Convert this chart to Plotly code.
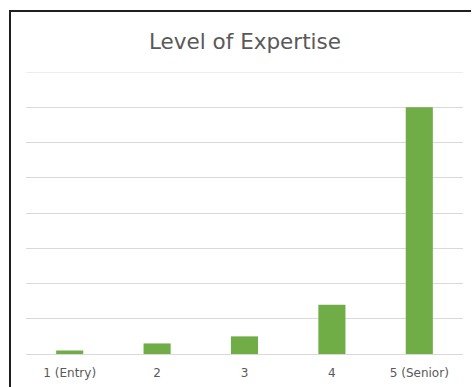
import plotly.graph_objects as go

# Level of expertise counts
levels = ["1 (Entry)", "2", "3", "4", "5 (Senior)"]
counts = [1, 3, 5, 14, 70]

bar_color = "#70AD47"
grid_color = "#D9D9D9"
text_color = "#595959"
font_family = "'DejaVu Sans', Lato, sans-serif"

W, H = 473, 387
m_l, m_r, m_t, m_b = 26, 10, 72, 33

fig = go.Figure(
    go.Bar(
        x=levels,
        y=counts,
        marker=dict(color=bar_color, line=dict(width=0)),
        hoverinfo="x+y",
    )
)

# chart frame: left and top edges, positioned in pixels via paper coordinates
pw = W - m_l - m_r
ph = H - m_t - m_b
def px_x(p):
    return (p - m_l) / pw
def px_y(p):
    return 1 - (p - m_t) / ph

frame = dict(color="#1f1f1f", width=2)
fig.add_shape(type="line", xref="paper", yref="paper",
              x0=px_x(10), x1=px_x(10), y0=px_y(H), y1=px_y(10),
              line=frame, layer="above")
fig.add_shape(type="line", xref="paper", yref="paper",
              x0=px_x(9), x1=px_x(W - 2), y0=px_y(11), y1=px_y(11),
              line=frame, layer="above")

fig.update_layout(
    width=W,
    height=H,
    margin=dict(l=m_l, r=m_r, t=m_t, b=m_b, pad=0, autoexpand=False),
    paper_bgcolor="white",
    plot_bgcolor="white",
    bargap=0.69,
    showlegend=False,
    font=dict(family=font_family, color=text_color),
    title=dict(
        text="Level of Expertise",
        x=0.518, xanchor="center",
        y=1 - 41 / H, yanchor="middle",
        font=dict(size=21.5, color=text_color, family=font_family),
    ),
    xaxis=dict(
        showgrid=False,
        showline=True,
        linecolor=grid_color,
        linewidth=1,
        ticks="",
        tickfont=dict(size=12, color=text_color),
        ticklabelstandoff=8,
        automargin=False,
        fixedrange=True,
    ),
    yaxis=dict(
        range=[0, 80],
        dtick=10,
        showgrid=True,
        gridcolor=grid_color,
        gridwidth=1,
        zeroline=False,
        showticklabels=False,
        ticks="",
        automargin=False,
        fixedrange=True,
    ),
)

# top gridline at the upper edge of the plotting area
fig.add_hline(y=80, line=dict(color=grid_color, width=1), layer="below")

fig.write_html("out.html")
